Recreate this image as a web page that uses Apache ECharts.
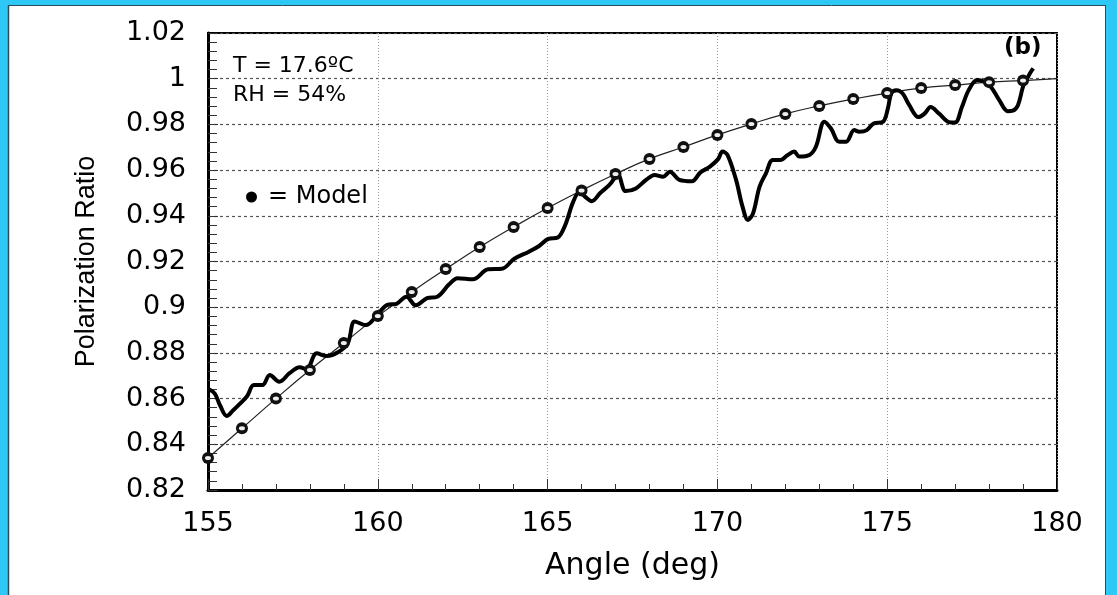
<!DOCTYPE html>
<html>
<head>
<meta charset="utf-8">
<script src="https://cdn.jsdelivr.net/npm/echarts@6/dist/echarts.min.js"></script>
<style>
  html, body { margin: 0; padding: 0; background: #ffffff; }
  #chart { width: 1117px; height: 595px; }
</style>
</head>
<body>
<div id="chart"></div>
<script>
// Model prediction, one point per degree
const modelAngles = [155, 156, 157, 158, 159, 160, 161, 162, 163, 164, 165, 166, 167,
  168, 169, 170, 171, 172, 173, 174, 175, 176, 177, 178, 179];
const modelValues = [0.834, 0.847, 0.860, 0.8725, 0.8843, 0.8961, 0.9067, 0.9167, 0.9263,
  0.9351, 0.9434, 0.9511, 0.9583, 0.9649, 0.9701, 0.9754, 0.9802, 0.9846, 0.9881,
  0.9911, 0.9937, 0.9959, 0.9972, 0.9985, 0.9992];
// Model curve continues to the backscatter direction
const modelEndAngle = 180;
const modelEndValue = 1.0;

// Measured polarization ratio
const measuredAngles = [155.0, 155.2, 155.35, 155.55, 155.75, 155.95, 156.15, 156.35, 156.6,
  156.82, 157.1, 157.4, 157.7, 157.9, 158.2, 158.5, 158.85, 159.12, 159.32, 159.65, 159.95,
  160.28, 160.55, 160.84, 161.12, 161.45, 161.75, 162.1, 162.35, 162.8, 163.25, 163.65,
  164.02, 164.45, 164.75, 165.02, 165.3, 165.52, 165.75, 165.95, 166.1, 166.3, 166.55,
  166.82, 167.07, 167.3, 167.6, 167.9, 168.15, 168.4, 168.6, 168.88, 169.25, 169.5,
  169.78, 170.02, 170.15, 170.3, 170.55, 170.74, 170.9, 171.05, 171.24, 171.43, 171.63,
  171.85, 172.07, 172.26, 172.41, 172.71, 172.9, 173.15, 173.34, 173.59, 173.79, 174.03,
  174.18, 174.4, 174.6, 174.88, 175.02, 175.12, 175.27, 175.45, 175.65, 175.92, 176.1,
  176.28, 176.53, 176.82, 177.0, 177.2, 177.4, 177.65, 177.85, 178.05, 178.3, 178.55,
  178.7, 178.85, 179.0, 179.1, 179.2, 179.3];
const measuredValues = [0.8643, 0.8622, 0.8572, 0.8524, 0.8550, 0.8579, 0.8610, 0.8659, 0.8659,
  0.8703, 0.8674, 0.8711, 0.8737, 0.8728, 0.8798, 0.8786, 0.8805, 0.8843, 0.8937, 0.8922, 0.8960,
  0.9010, 0.9015, 0.9046, 0.9008, 0.9040, 0.9046, 0.9100, 0.9127, 0.9122, 0.9166, 0.9168,
  0.9212, 0.9243, 0.9268, 0.9299, 0.9305, 0.9360, 0.9460, 0.9506, 0.9484, 0.9464, 0.9500,
  0.9535, 0.9579, 0.9508, 0.9520, 0.9557, 0.9579, 0.9571, 0.9593, 0.9557, 0.9551, 0.9590,
  0.9615, 0.9648, 0.9681, 0.9666, 0.9557, 0.9440, 0.9382, 0.9411, 0.9527, 0.9586, 0.9644,
  0.9644, 0.9666, 0.9681, 0.9659, 0.9666, 0.9702, 0.9812, 0.9783, 0.9724, 0.9724, 0.9775,
  0.9768, 0.9775, 0.9804, 0.9812, 0.9870, 0.9936, 0.9950, 0.9936, 0.9884, 0.9832, 0.9847,
  0.9876, 0.9847, 0.9810, 0.9808, 0.9876, 0.9950, 0.9994, 0.9987, 0.9965, 0.9906, 0.9858,
  0.9860, 0.9884, 0.9965, 0.9994, 1.0023, 1.0045];

// Tick labels
const xTickLabels = ['155', '160', '165', '170', '175', '180'];
const yTickLabels = ['0.82', '0.84', '0.86', '0.88', '0.9', '0.92', '0.94', '0.96', '0.98', '1', '1.02'];

const modelPoints = modelAngles.map((a, i) => [a, modelValues[i]]);
const modelCurve = modelPoints.concat([[modelEndAngle, modelEndValue]]);
const measuredPoints = measuredAngles.map((a, i) => [a, measuredValues[i]]);

const chart = echarts.init(document.getElementById('chart'), null, { renderer: 'canvas' });
const labelFont = 'DejaVu Sans';
const frameCyan = '#2ec8f6';

chart.setOption({
  backgroundColor: '#ffffff',
  animation: false,
  grid: {
    left: 208, right: 60, top: 33, bottom: 105,
    show: true, borderColor: '#000', borderWidth: 2, backgroundColor: 'transparent'
  },
  xAxis: {
    type: 'value', min: 155, max: 180, interval: 5,
    name: 'Angle (deg)', nameLocation: 'middle', nameGap: 61,
    nameTextStyle: { fontFamily: labelFont, fontSize: 30, color: '#000' },
    axisLine: { lineStyle: { color: '#000', width: 3 } },
    axisTick: { inside: true, length: 11, lineStyle: { color: '#333', width: 1 } },
    minorTick: { show: true, splitNumber: 5, length: 6, lineStyle: { color: '#333', width: 1 } },
    axisLabel: {
      margin: 20, fontFamily: labelFont, fontSize: 27, color: '#000',
      formatter: v => xTickLabels[Math.round((v - 155) / 5)]
    },
    splitLine: { show: true, lineStyle: { color: '#999', width: 1, type: [1, 2] } }
  },
  yAxis: {
    type: 'value', min: 0.82, max: 1.02, interval: 0.02,
    name: 'Polarization Ratio', nameLocation: 'middle', nameGap: 108, nameRotate: 90,
    nameTextStyle: { fontFamily: 'Liberation Sans', fontSize: 27, color: '#000' },
    axisLine: { lineStyle: { color: '#000', width: 3 } },
    axisTick: { inside: true, length: 10, lineStyle: { color: '#333', width: 1 } },
    minorTick: { show: true, splitNumber: 5, length: 9, lineStyle: { color: '#333', width: 1 } },
    axisLabel: {
      margin: 22, fontFamily: labelFont, fontSize: 27, color: '#000',
      formatter: v => yTickLabels[Math.round((v - 0.82) / 0.02)]
    },
    splitLine: { show: true, lineStyle: { color: '#555', width: 1.2, type: [3, 3] } }
  },
  legend: {
    left: 241, top: 180, itemWidth: 11, itemHeight: 11, itemGap: 12,
    textStyle: { fontFamily: labelFont, fontSize: 24, color: '#000', padding: [0, 0, 0, 6] },
    data: [{ name: '= Model', icon: 'circle', itemStyle: { color: '#000', borderWidth: 0 } }]
  },
  series: [
    {
      name: 'Model curve', type: 'line', data: modelCurve, smooth: true,
      showSymbol: false, lineStyle: { color: '#222', width: 1.2 }, z: 2
    },
    {
      name: 'Measured', type: 'line', data: measuredPoints, smooth: 0.35,
      showSymbol: false, lineStyle: { color: '#000', width: 4 }, z: 3
    },
    {
      name: '= Model', type: 'scatter', data: modelPoints, symbol: 'circle', symbolSize: 12,
      itemStyle: { color: '#111', opacity: 1 }, z: 4
    },
    {
      name: 'Model highlight', type: 'scatter', data: modelPoints, symbol: 'circle', symbolSize: [6, 4],
      itemStyle: { color: '#eeeeee', opacity: 1 }, z: 5, silent: true
    }
  ],
  graphic: [
    { type: 'rect', shape: { x: 0, y: 0, width: 1117, height: 5 }, style: { fill: frameCyan }, z: 10 },
    { type: 'rect', shape: { x: 0, y: 0, width: 8, height: 595 }, style: { fill: frameCyan }, z: 10 },
    { type: 'rect', shape: { x: 1106, y: 0, width: 11, height: 595 }, style: { fill: frameCyan }, z: 10 },
    { type: 'line', shape: { x1: 8, y1: 5.5, x2: 1106, y2: 5.5 }, style: { stroke: '#2a4b57', lineWidth: 1 }, z: 11 },
    { type: 'line', shape: { x1: 8.5, y1: 5, x2: 8.5, y2: 595 }, style: { stroke: '#2a4b57', lineWidth: 1.5 }, z: 11 },
    { type: 'line', shape: { x1: 1105.5, y1: 5, x2: 1105.5, y2: 595 }, style: { stroke: '#2a4b57', lineWidth: 1 }, z: 11 },
    { type: 'text', left: 233, top: 55,
      style: { text: 'T = 17.6\u00baC', font: '22px "DejaVu Sans"', fill: '#000' }, z: 12 },
    { type: 'text', left: 233, top: 84,
      style: { text: 'RH = 54%', font: '22px "DejaVu Sans"', fill: '#000' }, z: 12 },
    { type: 'text', left: 1004, top: 37,
      style: { text: '(b)', font: 'bold 23px "DejaVu Sans"', fill: '#000' }, z: 12 }
  ]
});
</script>
</body>
</html>
